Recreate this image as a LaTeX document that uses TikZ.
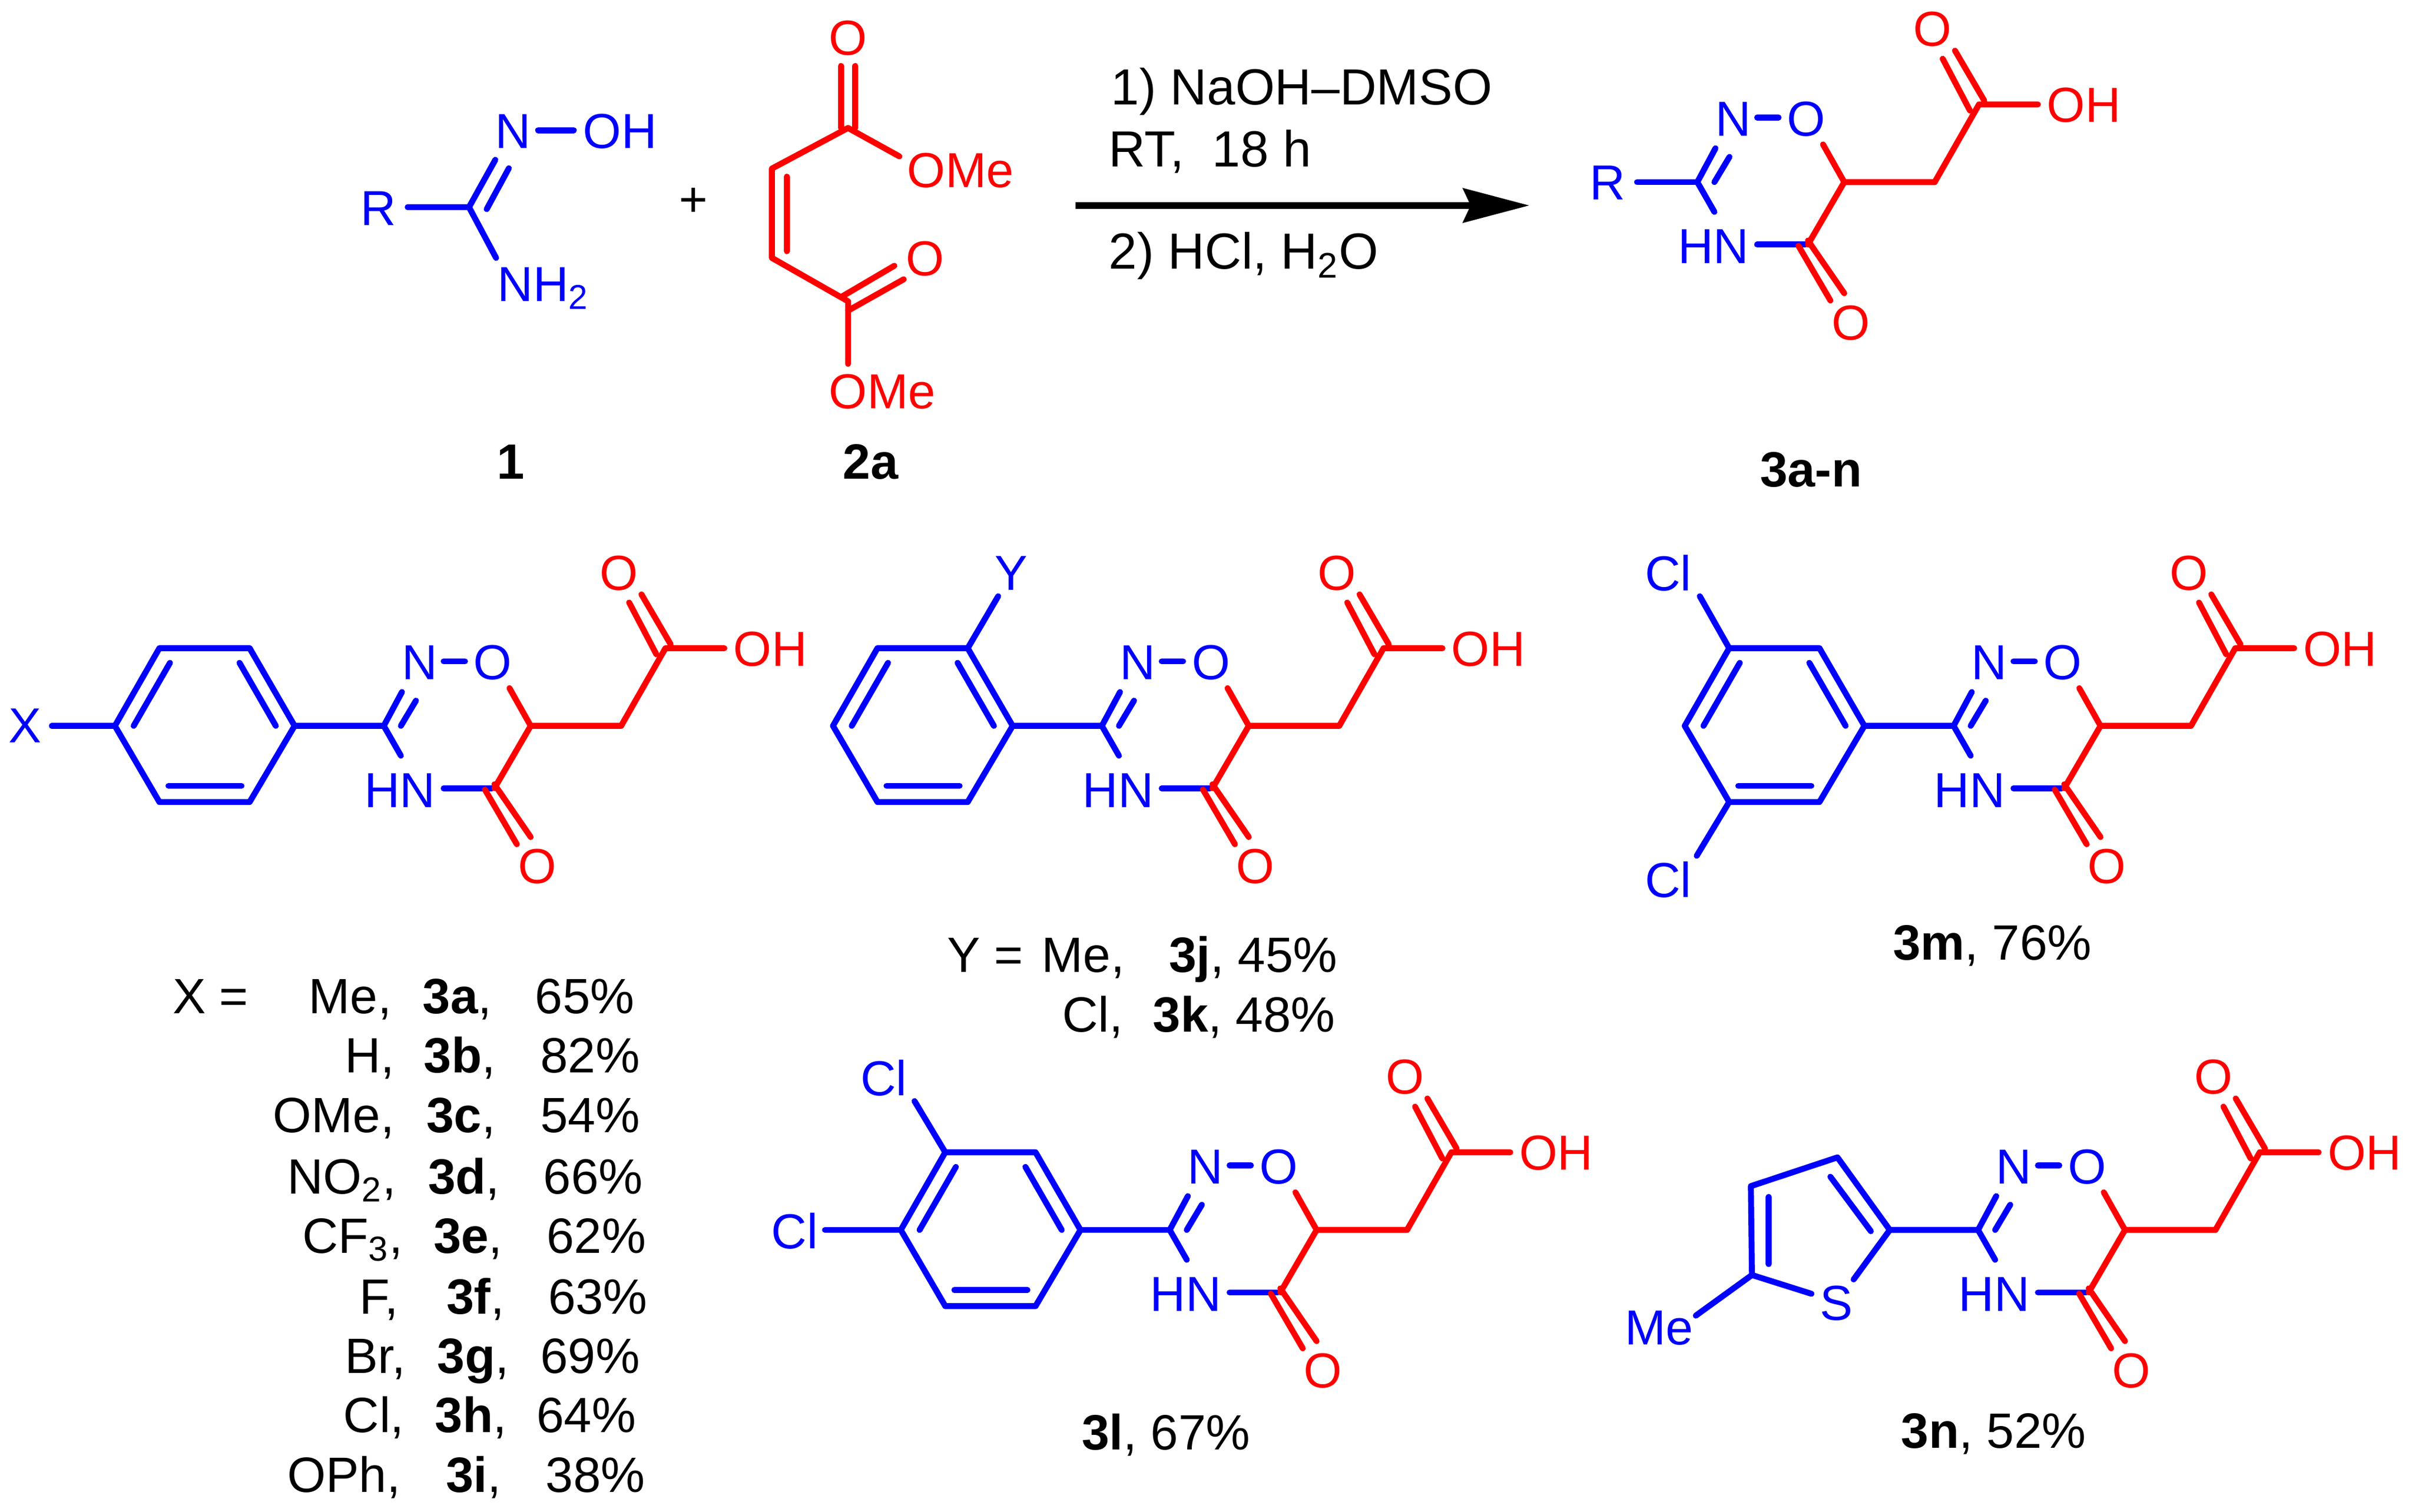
\documentclass[tikz,border=0pt]{standalone}
\usepackage{fontspec}
\setmainfont{Liberation Sans}
\usetikzlibrary{arrows.meta}
\definecolor{chemblue}{RGB}{0,0,255}
\definecolor{chemred}{RGB}{255,0,0}
\newcommand{\pnt}[2]{\coordinate (#1) at (#2);}
\tikzset{
  x=0.02cm,y=-0.02cm,
  bondb/.style={draw=chemblue,line width=2.2pt,line cap=round,line join=round},
  bondr/.style={draw=chemred,line width=2.2pt,line cap=round,line join=round},
  atomb/.style={text=chemblue,inner sep=0pt,font=\fontsize{18.2}{20}\selectfont},
  atomr/.style={text=chemred,inner sep=0pt,font=\fontsize{18.2}{20}\selectfont},
  atombl/.style={atomb,anchor=base west},
  atomrl/.style={atomr,anchor=base west},
  txt/.style={text=black,inner sep=0pt,anchor=base west,font=\fontsize{18.35}{22}\selectfont},
  txtc/.style={txt,anchor=base},
  condtxt/.style={txt,font=\fontsize{18.8}{22}\selectfont},
  acid/.pic={
    \pnt{c3}{0,0}\pnt{nend}{11.8,-22}\pnt{da}{11.1,0}\pnt{db}{20.9,-16.4}\pnt{nhend}{11.1,19.4}
    \pnt{noa}{38.9,-42}\pnt{nob}{52.8,-42}\pnt{oend}{81.7,-24.5}\pnt{c6}{95.5,0}
    \pnt{ch2}{154.3,0}\pnt{cooh}{183.1,-50.5}\pnt{ohend}{221.4,-50.5}
    \pnt{ea}{177.2,-46.5}\pnt{eb}{159.5,-80.2}\pnt{fa}{186.5,-53}\pnt{fb}{167.5,-85.5}
    \pnt{c5}{71.9,40.6}\pnt{nha}{38.9,40.6}\pnt{nhb}{70.2,40.6}
    \pnt{ga}{65.7,41.4}\pnt{gb}{86.5,77}\pnt{ha}{71.9,38}\pnt{hb}{95.5,72.3}
    \node[atomb] (natom) at (23.3,-41) {N};
    \node[atomb] (oatom) at (70.9,-41) {O};
    \node[atomb] (hnatom) at (10.5,42) {HN};
    \node[atomr] (ohatom) at (251.3,-50) {OH};
    \node[atomr] (ocid) at (152.9,-99.3) {O};
    \node[atomr] (olac) at (99.7,91.5) {O};
    \draw[bondb] (nend) -- (c3) -- (nhend);
    \draw[bondb] (da) -- (db);
    \draw[bondb] (noa) -- (nob);
    \draw[bondb] (nha) -- (nhb);
    \draw[bondr] (oend) -- (c6) -- (ch2) -- (cooh) -- (ohend);
    \draw[bondr] (c6) -- (c5);
    \draw[bondr] (ea) -- (eb);
    \draw[bondr] (fa) -- (fb);
    \draw[bondr] (ga) -- (gb);
    \draw[bondr] (ha) -- (hb);
  },
  aryl/.pic={
    \pnt{c3}{0,0}\pnt{r1}{-58,0}\pnt{r2}{-87.2,-50.5}\pnt{r3}{-145.9,-50.5}
    \pnt{r4}{-174.8,0}\pnt{r5}{-145.9,49.5}\pnt{r6}{-87.2,49.5}
    \pnt{ia}{-93.8,-41}\pnt{ib}{-70.2,0}\pnt{ja}{-139,-41}\pnt{jb}{-162.6,0}
    \pnt{ka}{-140,39}\pnt{kb}{-92.5,39}
    \draw[bondb] (c3) -- (r1);
    \draw[bondb] (r1) -- (r2) -- (r3) -- (r4) -- (r5) -- (r6) -- cycle;
    \draw[bondb] (ia) -- (ib);
    \draw[bondb] (ja) -- (jb);
    \draw[bondb] (ka) -- (kb);
  }
}
\begin{document}
\begin{tikzpicture}
\useasboundingbox (0,0) rectangle (1568,982.9);

% --- reactant 1
\node[atomb] (oR) at (246,135.4) {R};
\node[atomb] (oN) at (333.6,85.4) {N};
\node[atomb] (oOH) at (403,85.4) {OH};
\node[atombl] (oNH) at (323.2,196) {NH\textsubscript{2}};
\pnt{oC}{304.9,134.7}\pnt{oRe}{265,134.7}\pnt{oNe}{322,103.9}
\pnt{oia}{330.8,109.4}\pnt{oib}{316.4,136}\pnt{oNHe}{322.5,167.7}
\pnt{ooa}{349.8,84.7}\pnt{oob}{373,84.7}
\draw[bondb] (oRe) -- (oC) -- (oNe);
\draw[bondb] (oC) -- (oNHe);
\draw[bondb] (oia) -- (oib);
\draw[bondb] (ooa) -- (oob);
\node[txtc] (lab1) at (332,311.4) {\textbf{1}};
\node[inner sep=0pt,font=\fontsize{18.2}{20}\selectfont] (plus) at (450.8,131.4) {+};

% --- reactant 2a
\node[atomr] (mO1) at (551.3,24.7) {O};
\node[atomrl] (mOMe1) at (589.5,122) {OMe};
\node[atomr] (mO2) at (601.4,168.4) {O};
\node[atomrl] (mOMe2) at (538.5,265.7) {OMe};
\pnt{m1}{551.3,83.2}\pnt{m2}{501.8,109.6}\pnt{m3}{501.8,167.7}\pnt{m4}{551.3,195.9}
\pnt{mia}{546.7,42.9}\pnt{mib}{546.7,83.2}\pnt{mja}{556,42.9}\pnt{mjb}{556,83.2}
\pnt{mOe}{584.7,101.7}\pnt{mka}{511.5,114.9}\pnt{mkb}{511.5,163.3}
\pnt{mla}{546.7,193.2}\pnt{mlb}{581.4,172.8}\pnt{mma}{551.3,202}\pnt{mmb}{587.5,181.6}
\pnt{mOf}{551.3,236.6}
\draw[bondr] (mOe) -- (m1) -- (m2) -- (m3) -- (m4) -- (mOf);
\draw[bondr] (mia) -- (mib);
\draw[bondr] (mja) -- (mjb);
\draw[bondr] (mka) -- (mkb);
\draw[bondr] (mla) -- (mlb);
\draw[bondr] (mma) -- (mmb);
\node[txtc] (lab2) at (566,311.4) {\textbf{2a}};

% --- arrow and conditions
\pnt{arS}{699,133.6}\pnt{arT}{994.2,133.6}
\draw[line width=2.5pt,-{Stealth[length=24.5pt,width=12.6pt,inset=2.8pt]}] (arS) -- (arT);
\node[condtxt] (cond1) at (722,68.2) {1) NaOH–DMSO};
\node[condtxt] (cond2) at (720.5,108.5) {RT,\ \ 18 h};
\node[condtxt] (cond3) at (720.5,175) {2) HCl, H\textsubscript{2}O};

% --- product
\pic (pg) at (1103.4,118.4) {acid};
\node[atomb] (pR) at (1045.2,118.9) {R};
\pnt{pRe}{1064.2,118.4}
\draw[bondb] (pRe) -- (pgc3);
\node[txtc] (lab3) at (1177.3,316.5) {\textbf{3a-n}};

% --- 3a
\pic (pa) at (249.5,472) {aryl};
\pic (qa) at (249.5,472) {acid};
\node[atomb] (xl) at (16.3,472) {X};
\pnt{xe}{33.7,472}
\draw[bondb] (xe) -- (par4);

% --- 3j
\pic (pj) at (716.3,472) {aryl};
\pic (qj) at (716.3,472) {acid};
\node[atomb] (yl) at (657.2,372.7) {Y};
\pnt{ye}{648.9,387.7}
\draw[bondb] (pjr2) -- (ye);

% --- 3m
\pic (pm) at (1270,472) {aryl};
\pic (qm) at (1270,472) {acid};
\node[atomb] (mc1) at (1084.5,372.7) {Cl};
\node[atomb] (mc2) at (1084.5,572) {Cl};
\pnt{mce1}{1105,387.7}\pnt{mce2}{1103,556.5}
\draw[bondb] (pmr3) -- (mce1);
\draw[bondb] (pmr5) -- (mce2);

% --- 3l
\pic (pl) at (760.4,799.8) {aryl};
\pic (ql) at (760.4,799.8) {acid};
\node[atomb] (lc1) at (574.5,701) {Cl};
\node[atomb] (lc2) at (516.5,800.6) {Cl};
\pnt{lce1}{594.5,716}\pnt{lce2}{536.3,799.8}
\draw[bondb] (plr3) -- (lce1);
\draw[bondb] (plr4) -- (lce2);

% --- 3n
\pic (qn) at (1285.9,799.8) {acid};
\node[atomb] (ts) at (1193.8,847.4) {S};
\node[atomb] (tme) at (1078.5,863.7) {Me};
\pnt{t2}{1228.5,799.8}\pnt{t3}{1194.5,752.6}\pnt{t4}{1138.2,771.3}\pnt{t5}{1138.9,829.1}
\pnt{tse1}{1205,832}\pnt{tse2}{1177.6,841.3}\pnt{tme1}{1102.4,855.5}
\pnt{tia}{1216.2,800.6}\pnt{tib}{1189.9,765.2}\pnt{tja}{1149.8,778.3}\pnt{tjb}{1149.8,822}
\draw[bondb] (qnc3) -- (t2) -- (t3) -- (t4) -- (t5) -- (tse2);
\draw[bondb] (t2) -- (tse1);
\draw[bondb] (t5) -- (tme1);
\draw[bondb] (tia) -- (tib);
\draw[bondb] (tja) -- (tjb);

% --- table for X
\node[txt] (x0) at (111.9,659) {X =};
\node[txt] (a1) at (200.5,659) {Me,};
\node[txt] (a2) at (274.5,659) {\textbf{3a},};
\node[txt] (a3) at (347.5,659) {65\%};
\node[txt] (b1) at (224,697.7) {H,};
\node[txt] (b2) at (275.2,697.7) {\textbf{3b},};
\node[txt] (b3) at (351,697.7) {82\%};
\node[txt] (c1) at (177.2,736.3) {OMe,};
\node[txt] (c2) at (277,736.3) {\textbf{3c},};
\node[txt] (c3r) at (351,736.3) {54\%};
\node[txt] (d1) at (186.6,776.2) {NO\textsubscript{2},};
\node[txt] (d2) at (278,776.2) {\textbf{3d},};
\node[txt] (d3) at (353,776.2) {66\%};
\node[txt] (e1) at (196.3,814.8) {CF\textsubscript{3},};
\node[txt] (e2) at (281.5,814.8) {\textbf{3e},};
\node[txt] (e3) at (355,814.8) {62\%};
\node[txt] (f1) at (233.5,854.3) {F,};
\node[txt] (f2) at (290,854.3) {\textbf{3f},};
\node[txt] (f3) at (356,854.3) {63\%};
\node[txt] (g1) at (224,892.8) {Br,};
\node[txt] (g2) at (284,892.8) {\textbf{3g},};
\node[txt] (g3) at (351,892.8) {69\%};
\node[txt] (h1) at (223,931.6) {Cl,};
\node[txt] (h2) at (282.5,931.6) {\textbf{3h},};
\node[txt] (h3) at (348.5,931.6) {64\%};
\node[txt] (i1) at (186.6,970.2) {OPh,};
\node[txt] (i2) at (289.5,970.2) {\textbf{3i},};
\node[txt] (i3) at (354.5,970.2) {38\%};

% --- other captions
\node[txt] (y0) at (615.5,632.3) {Y =};
\node[txt] (j1) at (677,632.3) {Me,};
\node[txt] (j2) at (759.7,632.3) {\textbf{3j}, 45\%};
\node[txt] (k1) at (690.2,671) {Cl,};
\node[txt] (k2) at (749.3,671) {\textbf{3k}, 48\%};
\node[txt] (capl) at (703,942.7) {\textbf{3l}, 67\%};
\node[txt] (capm) at (1230.3,624.2) {\textbf{3m}, 76\%};
\node[txt] (capn) at (1235.6,941.5) {\textbf{3n}, 52\%};
\end{tikzpicture}
\end{document}
